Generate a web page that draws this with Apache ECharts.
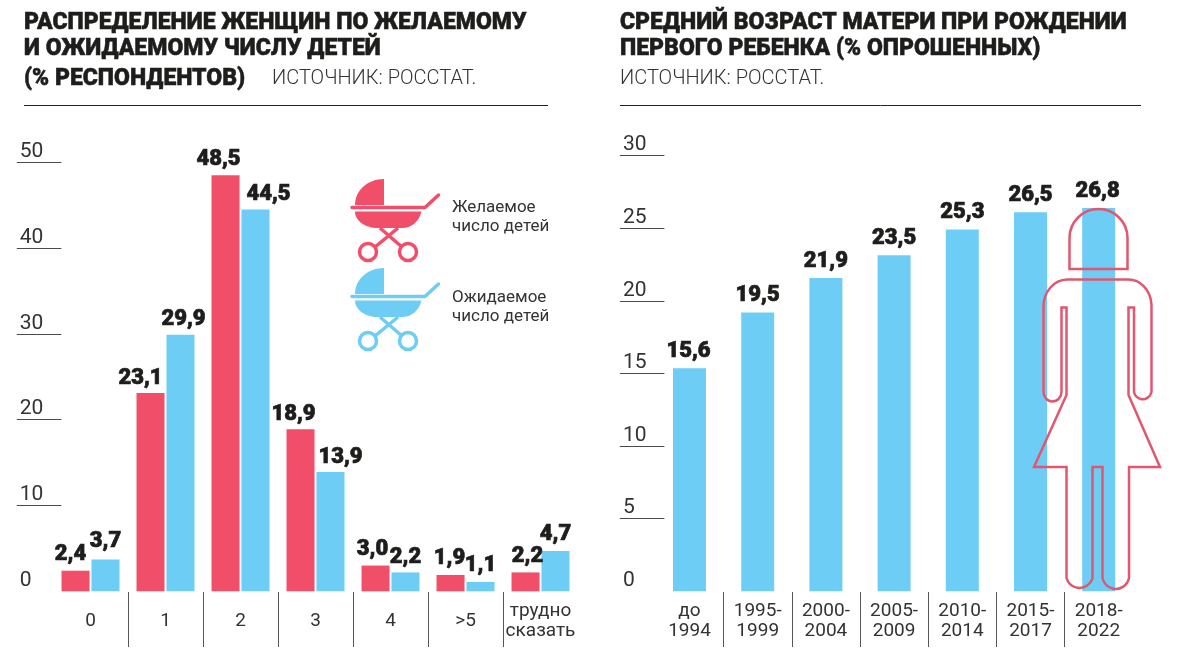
<!DOCTYPE html>
<html><head><meta charset="utf-8">
<style>html,body{margin:0;padding:0;background:#fff}#c{width:1184px;height:650px}</style>
<script src="https://cdn.jsdelivr.net/npm/echarts@6/dist/echarts.min.js"></script>
</head><body><div id="c"></div>
<script>
// data
const childCategories = ['0','1','2','3','4','>5','трудно\nсказать'];
const desiredValues  = [2.4,23.1,48.5,18.9,3.0,1.9,2.2];
const expectedValues = [3.7,29.9,44.5,13.9,2.2,1.1,4.7];
const desiredName = 'Желаемое\nчисло детей';
const expectedName = 'Ожидаемое\nчисло детей';
const periodCategories = ['до\n1994','1995-\n1999','2000-\n2004','2005-\n2009','2010-\n2014','2015-\n2017','2018-\n2022'];
const ageValues = [15.6,19.5,21.9,23.5,25.3,26.5,26.8];
const childTicks = [10,20,30,40,50];
const ageTicks = [5,10,15,20,25,30];

// label nudges, as drawn in the reference (style only)
const desiredNudge  = [[-5,-1],[-10,0],[-7,-1],[-7,0],[-3,-1],[-1,-1],[2,-1]];
const expectedNudge = [[0,-3],[3,0],[13,0],[10,0],[0,0],[0,-1],[0,-1]];
const ageNudge = [[-1,-2],[0,-2],[0,-2],[0,-2],[0,-2],[0,-2],[-1,-2]];

const RED='#f04e69', BLUE='#6dcdf5', INK='#1d1d1b', TXT='#333333', LINE='#4a4a4a', PINK='#e2566f';
const REG='Roboto', REGW=400;
const valLabel = {show:true,position:'top',distance:4,fontFamily:REG,fontWeight:900,fontSize:22,color:INK,
  textBorderColor:INK,textBorderWidth:0.7,
  formatter:p=>Number(p.value).toFixed(1).replace('.',',')};
const items=(vals,nudge)=>vals.map((v,i)=>({value:v,label:{offset:nudge[i]}}));

const valueAxis=(grid,max,offset,len,ticks,interval)=>({
  type:'value',gridIndex:grid,min:0,max:max,interval:interval,offset:offset,
  axisLine:{show:false},splitLine:{show:false},
  axisTick:{show:true,length:len,customValues:ticks,lineStyle:{color:LINE,width:1}},
  axisLabel:{show:true,align:'left',verticalAlign:'bottom',margin:len-3,fontFamily:REG,fontWeight:REGW,fontSize:21,color:TXT}
});
const catAxis=(grid,data)=>({
  type:'category',gridIndex:grid,data:data,axisLine:{show:false},axisTick:{show:false},splitLine:{show:false},
  axisLabel:{interval:0,margin:30,verticalAlign:'middle',fontFamily:REG,fontWeight:REGW,fontSize:19,lineHeight:20,color:TXT}
});
const divAxis=(grid,data)=>({
  type:'category',gridIndex:grid,data:data,axisLine:{show:false},axisTick:{show:false},axisLabel:{show:false},
  splitLine:{show:true,interval:0,showMinLine:false,showMaxLine:false,lineStyle:{color:'#555',width:1}}
});
const hiddenY=(grid,max)=>({type:'value',gridIndex:grid,min:0,max:max,show:false});

const titleBase={fontFamily:REG,fontWeight:900,fontSize:23,color:INK,lineHeight:26,textBorderColor:INK,textBorderWidth:0.5};
const srcBase={fontFamily:REG,fontWeight:300,fontSize:20,color:TXT};

const G=echarts.graphic;
const shapes={
  hood:'M384 179V205H355C355 190 368 179 384 179Z',
  rim:'M352 207.5H425L438.5 195',
  basket:'M355 211.5H421.5C419 222 411 228 402 228H378C364 228 355 220 355 211.5Z',
  legs:'M380 228L402 247M398 228L375 247',
  womanHead:'M1069.5 269V238A29 29 0 0 1 1127.5 238V269Z',
  womanBody:'M1068 279.5H1127A23 27 0 0 1 1151.5 307V392A9 9.5 0 0 1 1134 392V307.5H1128.5V395L1160 467H1129V578A13.5 13.5 0 0 1 1102.5 578V467H1092.5V578A13.5 13.5 0 0 1 1066.5 578V467H1034L1066.5 395V307.5H1061.5V392A9 9.5 0 0 1 1043.5 392V307A24 27 0 0 1 1068 279.5Z'
};
Object.keys(shapes).forEach(k=>G.registerShape(k,G.extendPath(shapes[k])));

function stroller(dy,color){
  return {type:'group',y:dy,silent:true,children:[
    {type:'hood',style:{fill:color}},
    {type:'rim',style:{fill:'none',stroke:color,lineWidth:3.5,lineCap:'round',lineJoin:'round'}},
    {type:'basket',style:{fill:color}},
    {type:'legs',style:{fill:'none',stroke:color,lineWidth:3.5}},
    {type:'circle',shape:{cx:368,cy:252,r:8.5},style:{fill:'none',stroke:color,lineWidth:3.5}},
    {type:'circle',shape:{cx:408,cy:252,r:8.5},style:{fill:'none',stroke:color,lineWidth:3.5}}
  ]};
}

const option={
  animation:false,backgroundColor:'#fff',
  title:[
    {left:24,top:10,padding:0,text:'РАСПРЕДЕЛЕНИЕ ЖЕНЩИН ПО ЖЕЛАЕМОМУ\nИ ОЖИДАЕМОМУ ЧИСЛУ ДЕТЕЙ',textStyle:titleBase},
    {left:24,top:66,padding:0,text:'(% РЕСПОНДЕНТОВ)',textStyle:titleBase},
    {left:272,top:69,padding:0,text:'ИСТОЧНИК: РОССТАТ.',textStyle:srcBase},
    {left:620,top:10,padding:0,text:'СРЕДНИЙ ВОЗРАСТ МАТЕРИ ПРИ РОЖДЕНИИ\nПЕРВОГО РЕБЕНКА (% ОПРОШЕННЫХ)',textStyle:titleBase},
    {left:620,top:69,padding:0,text:'ИСТОЧНИК: РОССТАТ.',textStyle:srcBase}
  ],
  grid:[
    {left:53,width:525,top:162.3,height:429},
    {left:655.4,width:477.4,top:155.7,height:435.6},
    {left:53,width:525,top:592,height:55},
    {left:655.4,width:477.4,top:592,height:55}
  ],
  xAxis:[catAxis(0,childCategories),catAxis(1,periodCategories),divAxis(2,childCategories),divAxis(3,periodCategories)],
  yAxis:[
    valueAxis(0,50,-8.3,44.5,childTicks,10),
    valueAxis(1,30,-9,44.5,ageTicks,5),
    hiddenY(1,30.46),
    hiddenY(2,1),
    hiddenY(3,1)
  ],
  series:[
    {type:'bar',name:desiredName,xAxisIndex:0,yAxisIndex:0,barWidth:28,barGap:'7%',itemStyle:{color:RED},label:valLabel,data:items(desiredValues,desiredNudge)},
    {type:'bar',name:expectedName,xAxisIndex:0,yAxisIndex:0,barWidth:28,barGap:'7%',itemStyle:{color:BLUE},label:valLabel,data:items(expectedValues,expectedNudge)},
    {type:'bar',name:'Средний возраст',xAxisIndex:1,yAxisIndex:2,barWidth:33,itemStyle:{color:BLUE},label:valLabel,data:items(ageValues,ageNudge)}
  ],
  graphic:{elements:[
    {type:'line',silent:true,shape:{x1:24,y1:105.5,x2:548,y2:105.5},style:{stroke:'#222',lineWidth:1}},
    {type:'line',silent:true,shape:{x1:620,y1:105.5,x2:1141,y2:105.5},style:{stroke:'#222',lineWidth:1}},
    stroller(0,RED),
    stroller(89,BLUE),
    {type:'text',silent:true,x:452,y:198,style:{text:desiredName,fontFamily:REG,fontWeight:REGW,fontSize:17,lineHeight:19,fill:TXT}},
    {type:'text',silent:true,x:452,y:288,style:{text:expectedName,fontFamily:REG,fontWeight:REGW,fontSize:17,lineHeight:19,fill:TXT}},
    {type:'womanHead',silent:true,z:10,style:{fill:'none',stroke:PINK,lineWidth:2.5}},
    {type:'womanBody',silent:true,z:10,style:{fill:'none',stroke:PINK,lineWidth:2.5}}
  ]}
};
echarts.init(document.getElementById('c'),null,{renderer:'canvas'}).setOption(option);
</script></body></html>
